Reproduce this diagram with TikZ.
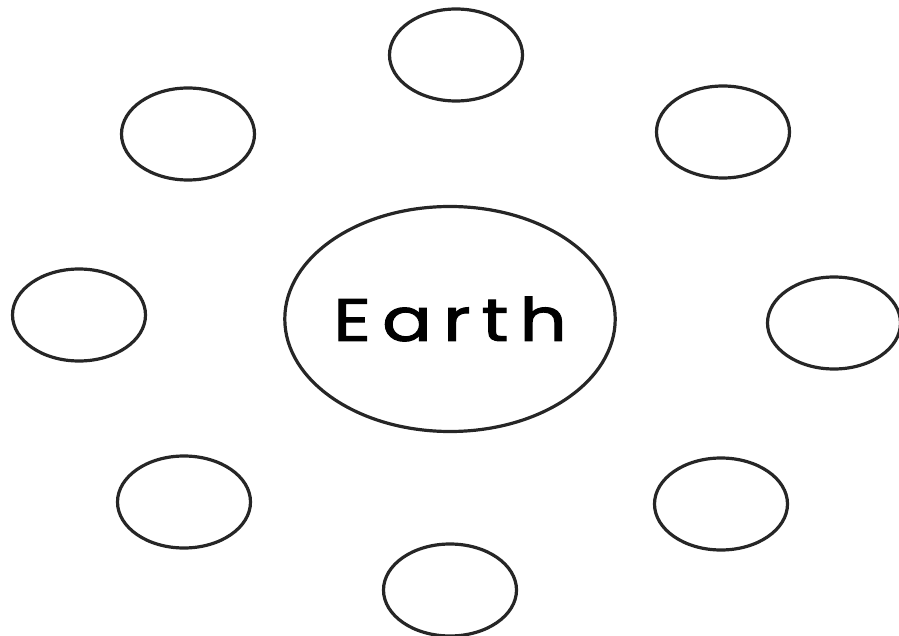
\documentclass[tikz,border=0pt]{standalone}
\usepackage{fontspec}
\setmainfont{Poppins}
\newfontfamily\handfont[LetterSpace=15,FakeBold=1.6]{Poppins}
\usetikzlibrary{shapes.geometric}

\begin{document}
\begin{tikzpicture}[x=1pt,y=-1pt,
  moon/.style={draw=black!85,ellipse,line width=3.2pt,minimum width=133pt,minimum height=92pt},
  planet/.style={draw=black!85,ellipse,line width=3.2pt,inner sep=0pt,minimum width=316pt,minimum height=225pt,
    font=\handfont\fontsize{60}{62}\selectfont}]
\useasboundingbox (0,0) rectangle (899,636);
\node[planet] (earth) at (450,319) {\scalebox{1.23}[1]{Earth}};
\foreach \nm/\px/\py in {top/456/55,topleft/188/134,topright/723/132,left/79/315,
  right/834/323,botleft/184/502,botright/721/504,bottom/450/590}
  \node[moon] (\nm) at (\px,\py) {};
\end{tikzpicture}
\end{document}
